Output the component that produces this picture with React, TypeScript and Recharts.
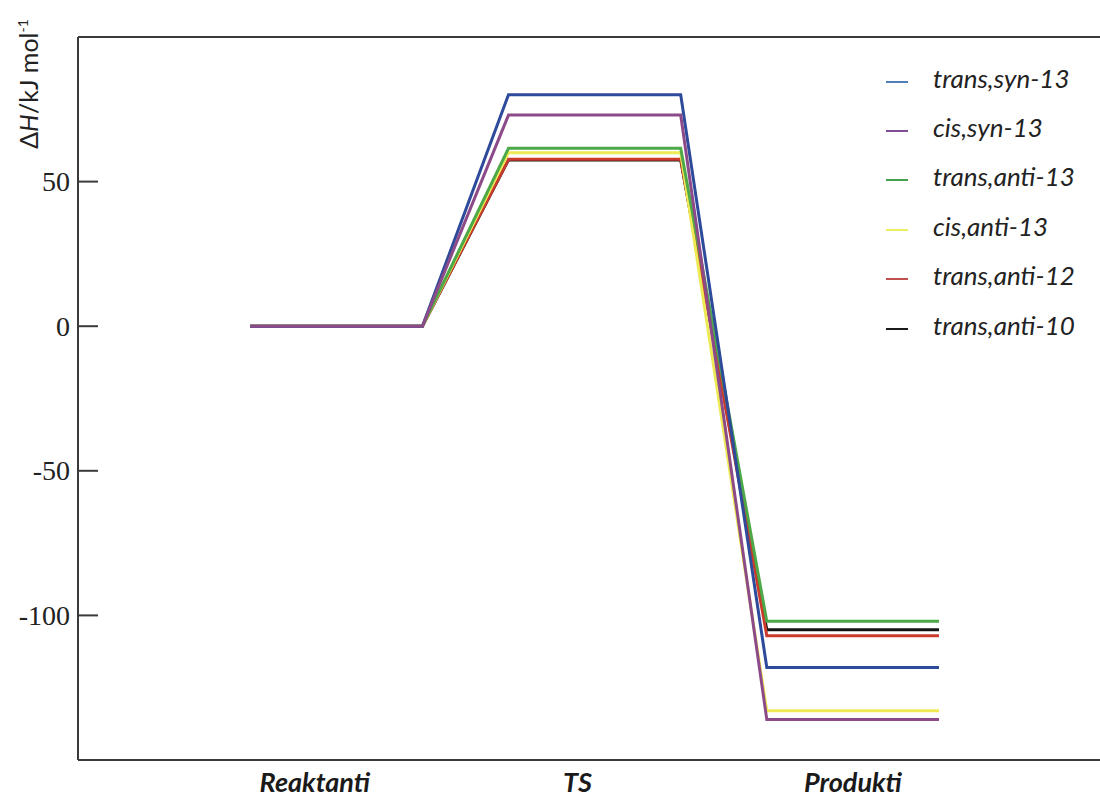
import { LineChart, Line, XAxis, YAxis, ReferenceLine } from 'recharts';

const seriesNames = ['trans,syn-13', 'cis,syn-13', 'trans,anti-13', 'cis,anti-13', 'trans,anti-12', 'trans,anti-10'];
const reactantValues = [0, 0, 0, 0, 0, 0];
const tsValues = [80, 73, 61.5, 60, 57.7, 57.5];
const productValues = [-118, -136, -102, -133, -107, -105];
const lineColors = ['#2E4A9A', '#8C4B88', '#4DA847', '#EDEB55', '#CC3A2C', '#141414'];
const legendColors = ['#4F7FB8', '#7E4F98', '#45A050', '#EEEE66', '#C0504D', '#1A1A1A'];
// purple drawn last so it sits on top at the reactant level
const drawOrder = [5, 4, 3, 2, 0, 1];

// start / end of each energy level along the reaction coordinate
const stageX = [0, 2, 3, 5, 6, 8];
const stageLabels = ['Reaktanti', 'TS', 'Produkti'];
const stageTicks = [0.75, 3.8, 7];
const yTicks = [-100, -50, 0, 50];

const levels = [reactantValues, tsValues, productValues];
const data = stageX.map((x, j) => {
  const row: Record<string, number> = { x };
  seriesNames.forEach((_, k) => {
    row[`s${k}`] = levels[Math.floor(j / 2)][k];
  });
  return row;
});

const axisColor = '#3a3a3a';

const YTick = ({ x, y, payload }: any) => (
  <g>
    <line x1={x + 8} x2={x + 28} y1={y} y2={y} stroke={axisColor} strokeWidth={2} />
    <text
      x={x}
      y={y}
      textAnchor="end"
      dominantBaseline="central"
      fontFamily="'Liberation Serif', 'Times New Roman', serif"
      fontSize={28}
      fill="#222"
    >
      {payload.value}
    </text>
  </g>
);

const XTick = ({ x, y, payload }: any) => (
  <text
    x={x}
    y={y + 32}
    textAnchor="middle"
    fontFamily="Lato, sans-serif"
    fontWeight="bold"
    fontStyle="italic"
    fontSize={27}
    fill="#1a1a1a"
  >
    {stageLabels[stageTicks.indexOf(payload.value)]}
  </text>
);

const YLabel = () => (
  <text
    x={38}
    y={84}
    transform="rotate(-90, 38, 84)"
    textAnchor="middle"
    fontFamily="Lato, sans-serif"
    fontSize={25}
    fill="#222"
  >
    Δ<tspan fontStyle="italic">H</tspan>/kJ mol
    <tspan dy={-10} fontSize={14}>-1</tspan>
  </text>
);

const LegendBox = () => (
  <div
    style={{
      position: 'absolute',
      left: 886,
      top: 53,
      fontFamily: 'Lato, sans-serif',
      fontStyle: 'italic',
      fontSize: 26,
      color: '#222',
    }}
  >
    {seriesNames.map((n, i) => (
      <div key={n} style={{ height: 49.4, display: 'flex', alignItems: 'center' }}>
        <span style={{ width: 22, height: 2, background: legendColors[i], marginRight: 25, marginTop: 8 }} />
        <span>{n}</span>
      </div>
    ))}
  </div>
);

export default function App() {
  return (
    <div style={{ position: 'absolute', left: 0, top: 0, width: 1100, height: 797, background: '#fff' }}>
      <LineChart width={1100} height={797} data={data} margin={{ top: 37, right: 0, bottom: 0, left: 0 }}>
        <XAxis
          dataKey="x"
          type="number"
          domain={[-2, 9.87]}
          ticks={stageTicks}
          tick={<XTick />}
          tickLine={false}
          tickSize={0}
          tickMargin={0}
          height={37}
          axisLine={{ stroke: axisColor, strokeWidth: 2 }}
        />
        <YAxis
          type="number"
          domain={[-150, 100]}
          ticks={yTicks}
          tick={<YTick />}
          tickLine={false}
          tickSize={0}
          tickMargin={8}
          width={78}
          axisLine={{ stroke: axisColor, strokeWidth: 2 }}
          label={{ content: () => <YLabel /> }}
        />
        <ReferenceLine y={100} stroke={axisColor} strokeWidth={2} />
        {drawOrder.map((k) => (
          <Line
            key={seriesNames[k]}
            dataKey={`s${k}`}
            name={seriesNames[k]}
            type="linear"
            stroke={lineColors[k]}
            strokeWidth={3}
            strokeLinejoin="miter"
            dot={false}
            activeDot={false}
            isAnimationActive={false}
          />
        ))}
      </LineChart>
      <LegendBox />
    </div>
  );
}
